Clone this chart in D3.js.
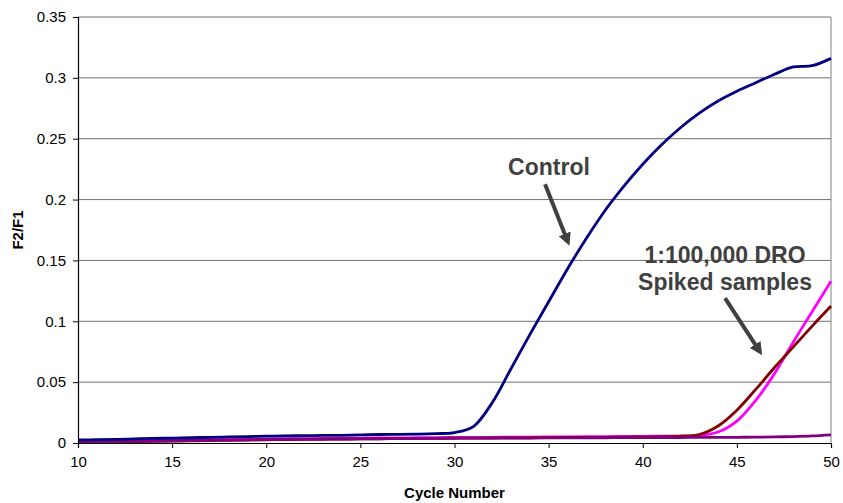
<!DOCTYPE html>
<html>
<head>
<meta charset="utf-8">
<script src="https://cdn.jsdelivr.net/npm/d3@7"></script>
<style>
  body { margin: 0; background: #fff; }
  svg { display: block; font-family: Arial, 'Liberation Sans', sans-serif; }
</style>
</head>
<body>
<div id="chart"></div>
<script>
const cycles = [10, 11, 12, 13, 14, 15, 16, 17, 18, 19, 20, 21, 22, 23, 24, 25, 26, 27, 28, 29, 30,
  31, 32, 33, 34, 35, 36, 37, 38, 39, 40, 41, 42, 43, 44, 45, 46, 47, 48, 49, 50];

const control = [0.0025, 0.0027, 0.003, 0.0034, 0.0038, 0.004, 0.0043, 0.0047, 0.005, 0.0053,
  0.0056, 0.0059, 0.006, 0.0062, 0.0063, 0.0066, 0.007, 0.0071, 0.0073, 0.0077,
  0.0086, 0.0135, 0.033, 0.061, 0.089, 0.116, 0.143, 0.168, 0.191, 0.211,
  0.229, 0.245, 0.259, 0.271, 0.281, 0.289, 0.296, 0.303, 0.309, 0.31, 0.316];

const spikedA = [0.0008, 0.0009, 0.001, 0.0012, 0.0014, 0.0016, 0.0018, 0.002, 0.0022, 0.0024,
  0.0026, 0.0028, 0.003, 0.0031, 0.0032, 0.0034, 0.0035, 0.0036, 0.0037, 0.0038,
  0.004, 0.004, 0.0041, 0.0042, 0.0043, 0.0044, 0.0045, 0.0046, 0.0047, 0.0048,
  0.005, 0.0052, 0.0056, 0.007, 0.014, 0.027, 0.044, 0.062, 0.079, 0.096, 0.1125];

const spikedB = [0.0015, 0.0016, 0.0017, 0.0019, 0.0021, 0.0023, 0.0025, 0.0027, 0.0029, 0.0031,
  0.0033, 0.0035, 0.0036, 0.0037, 0.0038, 0.004, 0.0041, 0.0042, 0.0043, 0.0044,
  0.0045, 0.0046, 0.0047, 0.0048, 0.0049, 0.005, 0.0051, 0.0052, 0.0053, 0.0054,
  0.0055, 0.0056, 0.0057, 0.006, 0.009, 0.018, 0.035, 0.057, 0.083, 0.108, 0.133];

const blank = [0.001, 0.0011, 0.0012, 0.0014, 0.0016, 0.0018, 0.002, 0.0022, 0.0024, 0.0026,
  0.0028, 0.003, 0.0031, 0.0032, 0.0033, 0.0034, 0.0035, 0.0036, 0.0037, 0.0038,
  0.0039, 0.004, 0.004, 0.0041, 0.0041, 0.0042, 0.0042, 0.0043, 0.0043, 0.0044,
  0.0044, 0.0045, 0.0045, 0.0046, 0.0046, 0.0047, 0.0048, 0.005, 0.0053, 0.0058, 0.0067];

const xTicks = [10, 15, 20, 25, 30, 35, 40, 45, 50];
const yTicks = [0, 0.05, 0.1, 0.15, 0.2, 0.25, 0.3, 0.35];

const seriesList = [
  { name: 'spikedB', values: spikedB, color: '#ff00ff' },
  { name: 'spikedA', values: spikedA, color: '#800000' },
  { name: 'blank', values: blank, color: '#800080' },
  { name: 'control', values: control, color: '#000080' },
];

// annotation anchors in data units
const notes = [
  { lines: ['Control'], x: 35.02, y: 0.2205, arrow: [[34.81, 0.2125], [36.03, 0.165]] },
  { lines: ['1:100,000 DRO', 'Spiked samples'], x: 44.37, y: 0.148, arrow: [[44.37, 0.119], [46.23, 0.0748]] },
];

const width = 843, height = 503;
const margin = { top: 17, right: 12, bottom: 60, left: 78 };
const iw = width - margin.left - margin.right;
const ih = height - margin.top - margin.bottom;

const svg = d3.select('#chart').append('svg')
  .attr('width', width)
  .attr('height', height);

svg.append('defs').append('marker')
  .attr('id', 'head')
  .attr('viewBox', '0 0 10 10')
  .attr('refX', 7).attr('refY', 5)
  .attr('markerWidth', 3.2).attr('markerHeight', 3.2)
  .attr('markerUnits', 'strokeWidth')
  .attr('orient', 'auto')
  .append('path')
  .attr('d', 'M0,0 L10,5 L0,10 z')
  .attr('fill', '#404040');

const g = svg.append('g').attr('transform', `translate(${margin.left},${margin.top})`);

const x = d3.scaleLinear().domain([10, 50]).range([0, iw]);
const y = d3.scaleLinear().domain([0, 0.35]).range([ih, 0]);

// gridlines
g.append('g')
  .selectAll('line')
  .data(yTicks.filter((d) => d > 0))
  .enter().append('line')
  .attr('x1', 0).attr('x2', iw)
  .attr('y1', (d) => y(d)).attr('y2', (d) => y(d))
  .attr('stroke', '#707070').attr('stroke-width', 1);

g.append('line')
  .attr('x1', iw).attr('x2', iw).attr('y1', 0).attr('y2', ih)
  .attr('stroke', '#808080');

const line = d3.line()
  .x((d, i) => x(cycles[i]))
  .y((d) => y(d))
  .curve(d3.curveCatmullRom.alpha(0.5));

g.selectAll('.series')
  .data(seriesList)
  .enter().append('path')
  .attr('class', 'series')
  .attr('d', (d) => line(d.values))
  .attr('fill', 'none')
  .attr('stroke', (d) => d.color)
  .attr('stroke-width', 2.8)
  .attr('stroke-linejoin', 'round');

const xAxis = g.append('g')
  .attr('transform', `translate(0,${ih})`)
  .call(d3.axisBottom(x).tickValues(xTicks).tickSize(5).tickPadding(8));
const yAxis = g.append('g')
  .call(d3.axisLeft(y).tickValues(yTicks).tickFormat(d3.format('~g')).tickSize(5).tickPadding(7));

[xAxis, yAxis].forEach((ax) => {
  ax.select('.domain').attr('stroke', '#000').attr('stroke-width', 1.2);
  ax.selectAll('.tick line').attr('stroke', '#000');
  ax.selectAll('.tick text')
    .attr('fill', '#000')
    .style('font-size', '15px')
    .style('font-family', 'Arial, "Liberation Sans", sans-serif');
});

svg.append('text')
  .attr('x', margin.left + iw / 2)
  .attr('y', 498)
  .attr('text-anchor', 'middle')
  .style('font-size', '15px')
  .style('font-weight', 'bold')
  .text('Cycle Number');

svg.append('text')
  .attr('transform', `translate(23,${margin.top + ih / 2}) rotate(-90)`)
  .attr('text-anchor', 'middle')
  .style('font-size', '15px')
  .style('font-weight', 'bold')
  .text('F2/F1');

const ann = g.selectAll('.note').data(notes).enter().append('g').attr('class', 'note');

ann.each(function drawNote(d) {
  const sel = d3.select(this);
  d.lines.forEach((t, i) => {
    sel.append('text')
      .attr('x', x(d.x))
      .attr('y', y(d.y) + i * 27)
      .attr('text-anchor', 'middle')
      .attr('fill', '#404040')
      .style('font-size', '23px')
      .style('font-weight', 'bold')
      .text(t);
  });
  sel.append('line')
    .attr('x1', x(d.arrow[0][0])).attr('y1', y(d.arrow[0][1]))
    .attr('x2', x(d.arrow[1][0])).attr('y2', y(d.arrow[1][1]))
    .attr('stroke', '#404040')
    .attr('stroke-width', 4)
    .attr('marker-end', 'url(#head)');
});
</script>
</body>
</html>
